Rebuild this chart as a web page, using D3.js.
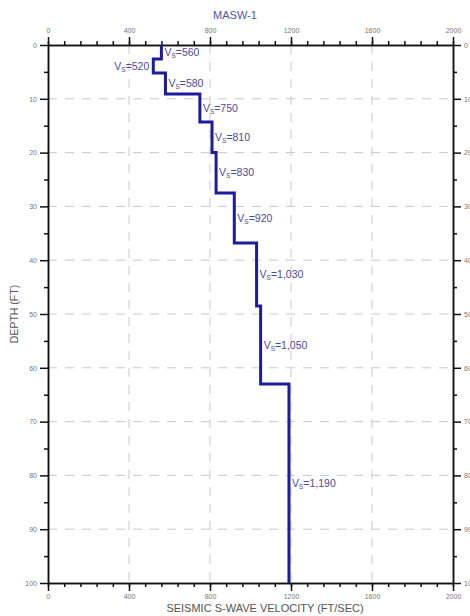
<!DOCTYPE html>
<html>
<head>
<meta charset="utf-8">
<script src="https://cdn.jsdelivr.net/npm/d3@7"></script>
<style>
  body { margin: 0; background: #fff; }
  svg { font-family: 'Liberation Sans', Arial, sans-serif; }
</style>
</head>
<body>
<div id="chart"></div>
<script>
'use strict'

const WIDTH = 470
const HEIGHT = 616
const MARGIN = { top: 45, right: 17, bottom: 33, left: 48 }

// layers: velocity (ft/s) and depth of the top of each layer (ft)
const VELOCITIES = [560, 520, 580, 750, 810, 830, 920, 1030, 1050, 1190]
const LAYER_TOPS = [0, 2.6, 5.2, 9.1, 14.3, 20, 27.5, 36.8, 48.5, 63]
const MAX_DEPTH = 100
const LEFT_LABELS = [520]

const X_TICKS = [0, 400, 800, 1200, 1600, 2000]
const X_MINOR = d3.range(0, 2001, 80)
const Y_TICKS = d3.range(0, 101, 10)
const Y_MINOR = d3.range(5, 100, 10)

const w = WIDTH - MARGIN.left - MARGIN.right
const h = HEIGHT - MARGIN.top - MARGIN.bottom

const svg = d3.select('#chart').append('svg')
  .attr('width', WIDTH)
  .attr('height', HEIGHT)

const g = svg.append('g')
  .attr('transform', 'translate(' + MARGIN.left + ',' + MARGIN.top + ')')

const x = d3.scaleLinear().domain([0, 2000]).range([0, w])
const y = d3.scaleLinear().domain([0, MAX_DEPTH]).range([0, h])

// dashed grid
g.append('g').selectAll('line')
  .data(X_TICKS.slice(1, -1))
  .join('line')
  .attr('x1', d => x(d)).attr('x2', d => x(d))
  .attr('y1', 0).attr('y2', h)
  .attr('stroke', '#c9c9c9').attr('stroke-width', 1)
  .attr('stroke-dasharray', '9,8')

g.append('g').selectAll('line')
  .data(Y_TICKS.slice(1, -1))
  .join('line')
  .attr('y1', d => y(d)).attr('y2', d => y(d))
  .attr('x1', 0).attr('x2', w)
  .attr('stroke', '#c9c9c9').attr('stroke-width', 1)
  .attr('stroke-dasharray', '9,8')

// axes
function styleAxis (sel) {
  sel.select('.domain').attr('stroke', '#111').attr('stroke-width', 1.5)
  sel.selectAll('.tick line').attr('stroke', '#111').attr('stroke-width', 1.5)
  sel.selectAll('.tick text').attr('fill', '#777').style('font-size', '7px')
}

function minorAxis (axis, vals) {
  return axis.tickValues(vals).tickSize(4).tickFormat('').tickSizeOuter(0)
}

const xFmt = d3.format('d')

g.append('g').call(minorAxis(d3.axisTop(x), X_MINOR)).call(styleAxis)
g.append('g').call(d3.axisTop(x).tickValues(X_TICKS).tickFormat(xFmt).tickSize(8).tickSizeOuter(0).tickPadding(4)).call(styleAxis)

g.append('g').attr('transform', 'translate(0,' + h + ')')
  .call(minorAxis(d3.axisBottom(x), X_MINOR)).call(styleAxis)
g.append('g').attr('transform', 'translate(0,' + h + ')')
  .call(d3.axisBottom(x).tickValues(X_TICKS).tickFormat(xFmt).tickSize(8).tickSizeOuter(0).tickPadding(3)).call(styleAxis)

g.append('g').call(minorAxis(d3.axisLeft(y), Y_MINOR)).call(styleAxis)
g.append('g').call(d3.axisLeft(y).tickValues(Y_TICKS).tickFormat(xFmt).tickSize(8).tickSizeOuter(0).tickPadding(3)).call(styleAxis)

g.append('g').attr('transform', 'translate(' + w + ',0)')
  .call(minorAxis(d3.axisRight(y), Y_MINOR)).call(styleAxis)
g.append('g').attr('transform', 'translate(' + w + ',0)')
  .call(d3.axisRight(y).tickValues(Y_TICKS).tickFormat(xFmt).tickSize(8).tickSizeOuter(0).tickPadding(3)).call(styleAxis)

// velocity profile as a step line
const layers = VELOCITIES.map((v, i) => ({
  v: v,
  top: LAYER_TOPS[i],
  bottom: i < LAYER_TOPS.length - 1 ? LAYER_TOPS[i + 1] : MAX_DEPTH
}))

const pts = []
layers.forEach(l => {
  pts.push([l.v, l.top])
  pts.push([l.v, l.bottom])
})

const line = d3.line()
  .x(d => x(d[0]))
  .y(d => y(d[1]))

g.append('path')
  .datum(pts)
  .attr('d', line)
  .attr('fill', 'none')
  .attr('stroke', '#1c1c9c')
  .attr('stroke-width', 3)
  .attr('stroke-linejoin', 'miter')

// layer labels
const vFmt = d3.format(',')
const lbl = g.append('g').selectAll('text')
  .data(layers)
  .join('text')
  .attr('x', d => LEFT_LABELS.includes(d.v) ? x(d.v) - 4 : x(d.v) + 3)
  .attr('y', d => y((d.top + d.bottom) / 2))
  .attr('dy', '0.35em')
  .attr('text-anchor', d => LEFT_LABELS.includes(d.v) ? 'end' : 'start')
  .attr('fill', '#4b4b9e')
  .style('font-size', '10.5px')

lbl.append('tspan').text('V')
lbl.append('tspan').text('S').style('font-size', '6.5px').attr('dy', '2')
lbl.append('tspan').text(d => '=' + vFmt(d.v)).attr('dy', '-2')

// titles
svg.append('text')
  .attr('x', 235).attr('y', 19)
  .attr('text-anchor', 'middle')
  .attr('fill', '#4a58a8')
  .style('font-size', '11px')
  .text('MASW-1')

svg.append('text')
  .attr('x', 265).attr('y', 612)
  .attr('text-anchor', 'middle')
  .attr('fill', '#555')
  .style('font-size', '11px')
  .text('SEISMIC S-WAVE VELOCITY (FT/SEC)')

svg.append('text')
  .attr('transform', 'translate(18,' + (MARGIN.top + h / 2) + ') rotate(-90)')
  .attr('text-anchor', 'middle')
  .attr('fill', '#555')
  .style('font-size', '10.5px')
  .text('DEPTH (FT)')
</script>
</body>
</html>
